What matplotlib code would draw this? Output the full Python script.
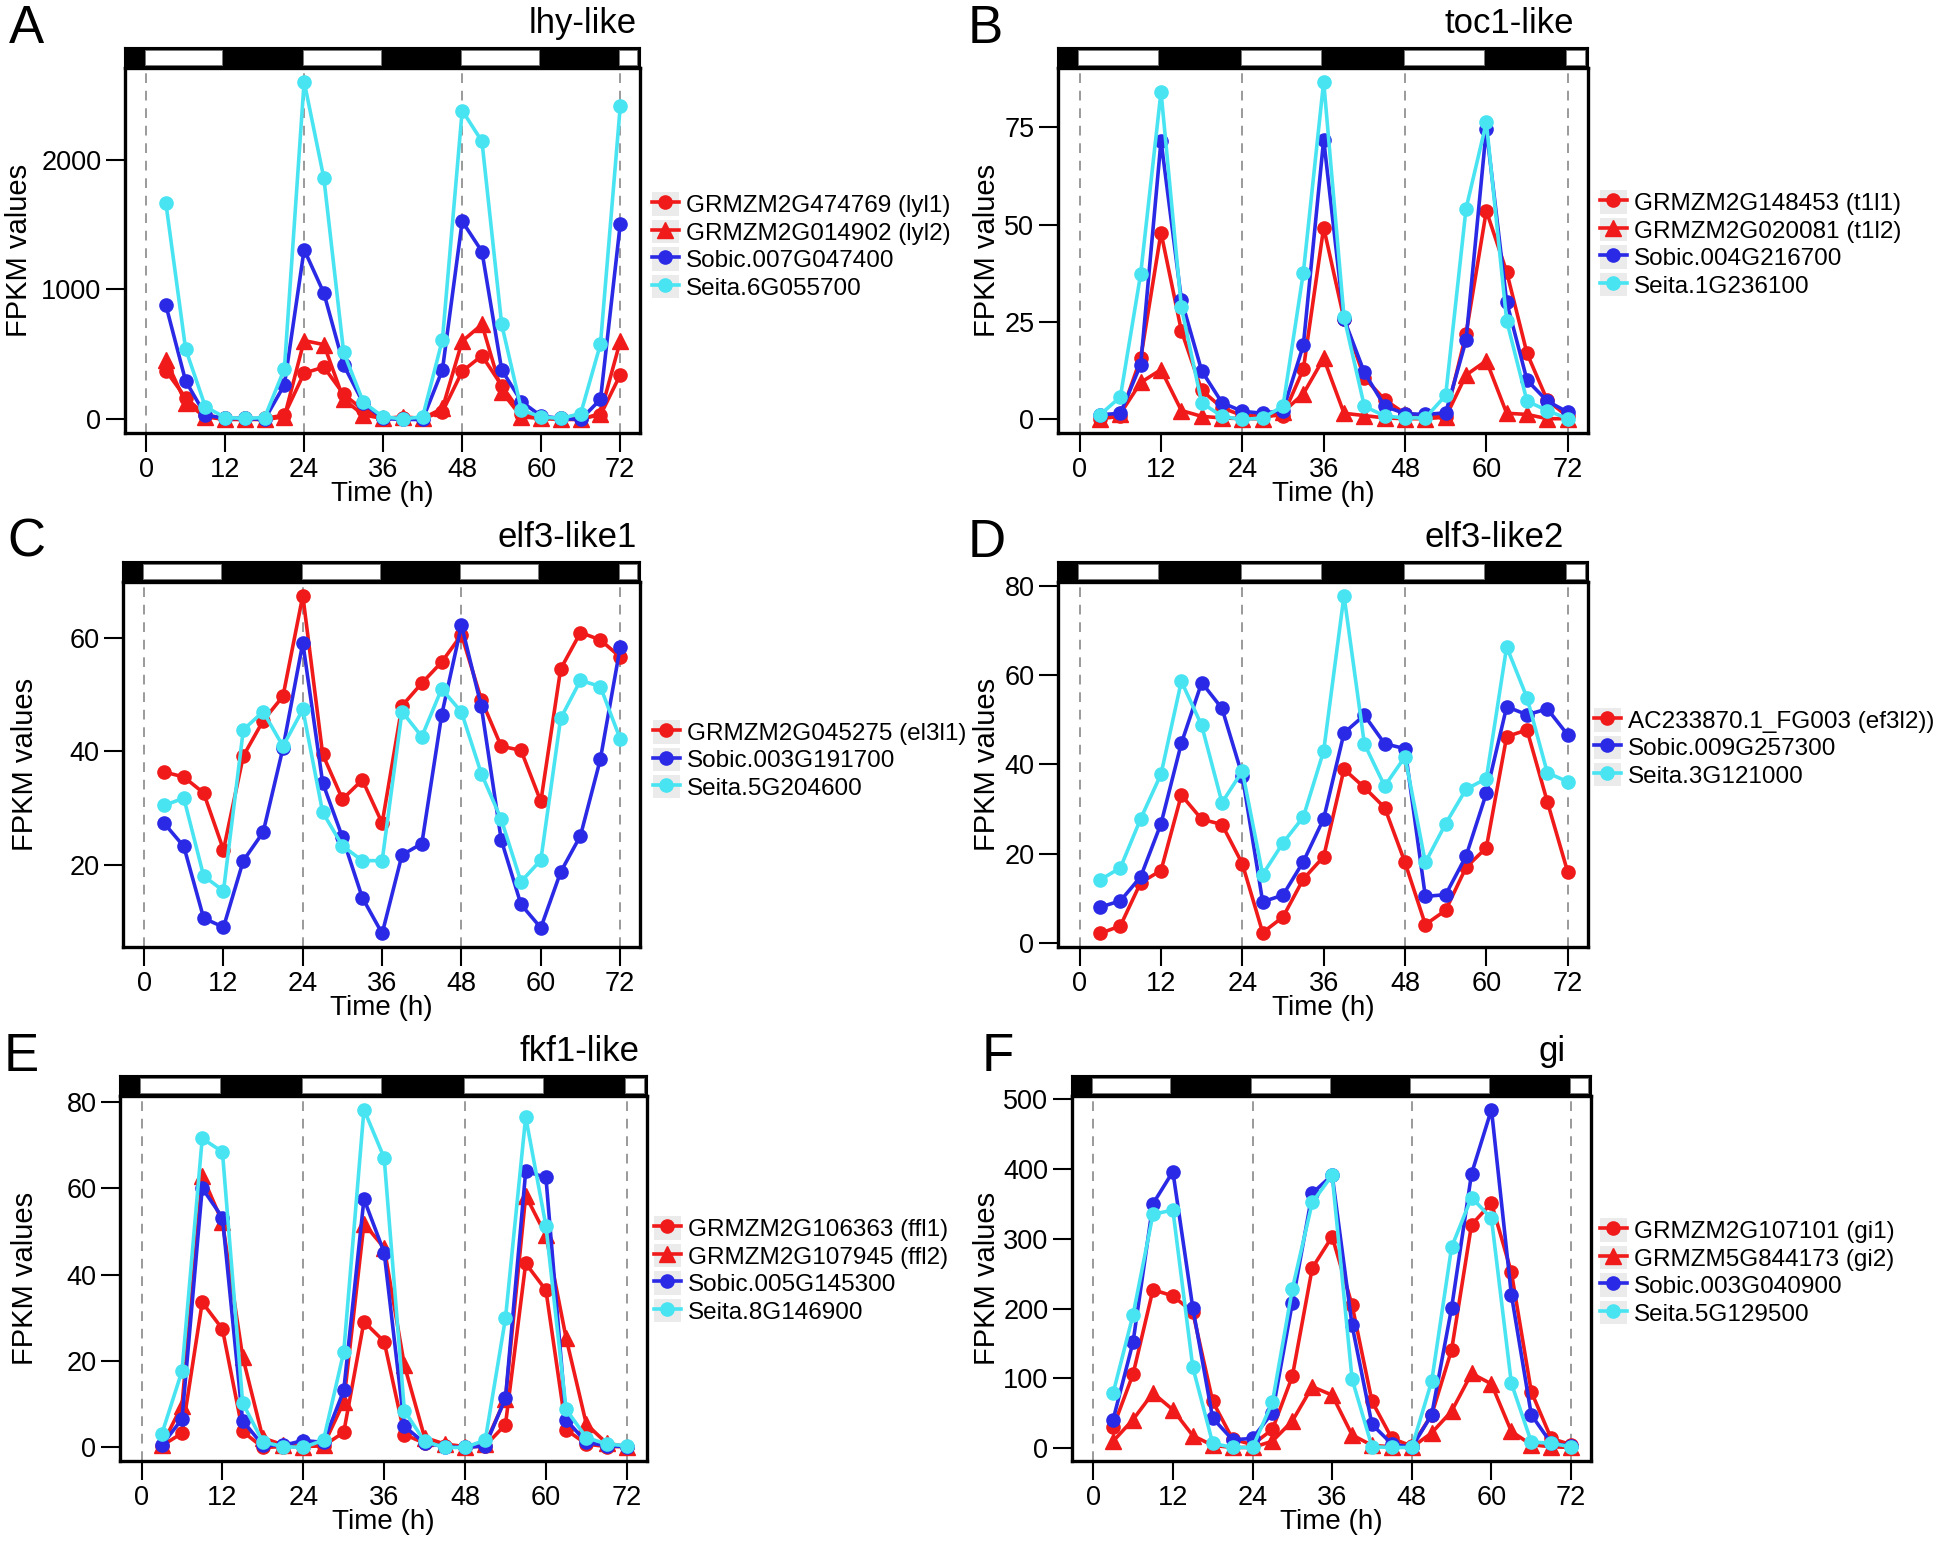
import matplotlib
matplotlib.use("Agg")
import matplotlib.pyplot as plt
from matplotlib.legend_handler import HandlerLine2D
from matplotlib.patches import Rectangle

plt.rcParams['font.family'] = ['Liberation Sans', 'DejaVu Sans']

# sampling times (h)
hours = [3, 6, 9, 12, 15, 18, 21, 24, 27, 30, 33, 36,
         39, 42, 45, 48, 51, 54, 57, 60, 63, 66, 69, 72]

# light periods for the top bar
light_on = [0, 24, 48, 72]
light_off = [12, 36, 60, 84]

# A: lhy-like
lyl1 = [375, 168, 34, 8, 8, 8, 34, 357, 403, 194, 72, 8, 8, 8, 59, 370, 491, 261, 46, 8, 8, 8, 34, 344]
lyl2 = [460, 129, 20, 0, 0, 0, 20, 607, 576, 155, 34, 8, 20, 8, 85, 602, 731, 214, 20, 8, 0, 0, 46, 602]
sobic_a = [881, 297, 34, 8, 8, 0, 266, 1307, 972, 419, 124, 8, 0, 0, 382, 1525, 1292, 382, 137, 26, 8, 0, 155, 1504]
seita_a = [1667, 543, 98, 15, 8, 15, 388, 2600, 1855, 517, 132, 20, 5, 20, 615, 2377, 2140, 731, 72, 20, 8, 46, 581, 2408]

# B: toc1-like
t1l1 = [0.2, 0.8, 15.7, 48, 22.8, 7.5, 3.0, 1.0, 1.0, 1.0, 12.9, 49.3, 25.8, 10.7, 5.1, 1.5, 1.0, 0.6, 21.9, 53.6, 37.9, 17.0, 4.9, 0.8]
t1l2 = [0.2, 1.5, 9.5, 12.8, 2.3, 0.8, 0.4, 0.2, 0.2, 1.9, 6.6, 15.7, 1.6, 1.0, 0.4, 0.2, 0.2, 0.6, 11.4, 15.1, 1.6, 1.3, 0.2, 0.2]
sobic_b = [1.2, 1.6, 14.1, 71.6, 30.8, 12.5, 4.3, 2.1, 1.6, 2.3, 19.1, 71.9, 25.8, 12.1, 3.4, 1.5, 1.3, 1.7, 20.3, 74.6, 30.2, 10.1, 4.7, 1.9]
seita_b = [1.2, 5.8, 37.4, 84.2, 28.8, 4.3, 0.8, 0, 0.4, 3.4, 37.7, 86.8, 26.3, 3.4, 0.9, 0.4, 0.4, 6.2, 54.1, 76.3, 25.4, 4.7, 2.3, 0.2]

# C: elf3-like1
el3l1 = [36.4, 35.5, 32.7, 22.7, 39.2, 45.4, 49.7, 67.4, 39.5, 31.6, 35.0, 27.4, 48.0, 52.0, 55.7, 60.5, 49.1, 40.9, 40.2, 31.2, 54.5, 60.9, 59.6, 56.6]
sobic_c = [27.4, 23.3, 10.7, 9.1, 20.8, 25.8, 40.6, 59.1, 34.5, 24.9, 14.3, 8.0, 21.8, 23.8, 46.4, 62.2, 47.9, 24.5, 13.1, 9.0, 18.8, 25.2, 38.6, 58.3]
seita_c = [30.5, 31.8, 18.1, 15.5, 43.8, 47.0, 40.9, 47.4, 29.3, 23.4, 20.8, 20.8, 47.0, 42.6, 51.0, 46.9, 36.1, 28.1, 17.1, 20.9, 45.8, 52.5, 51.4, 42.2]

# D: elf3-like2
ef3l2 = [2.1, 3.8, 13.5, 16.2, 33.1, 27.7, 26.5, 17.7, 2.3, 5.8, 14.3, 19.3, 38.9, 34.8, 30.3, 18.0, 4.1, 7.3, 16.9, 21.3, 46.2, 47.7, 31.6, 15.9]
sobic_d = [8.0, 9.4, 14.8, 26.7, 44.7, 58.3, 52.5, 37.4, 9.2, 10.7, 18.2, 27.8, 47.0, 51.0, 44.6, 43.5, 10.4, 10.8, 19.4, 33.5, 52.9, 51.1, 52.4, 46.6]
seita_d = [14.1, 16.8, 27.8, 37.8, 58.6, 48.7, 31.4, 38.5, 15.3, 22.4, 28.2, 43.0, 77.8, 44.6, 35.1, 41.7, 18.0, 26.7, 34.4, 36.8, 66.3, 54.9, 38.1, 36.1]

# E: fkf1-like
ffl1 = [0.4, 3.3, 33.6, 27.4, 3.7, 0, 0.2, 0.2, 0.4, 3.5, 29.1, 24.5, 3.0, 1.0, 0.4, 0, 0.4, 5.3, 42.6, 36.4, 4.1, 0.8, 0.2, 0.2]
ffl2 = [0.5, 9.7, 62.9, 52.1, 21.0, 2.2, 0.6, 0.2, 0.5, 10.5, 51.8, 46.2, 19.0, 2.3, 0.8, 0.2, 0.8, 11.3, 58.3, 49.1, 25.3, 5.4, 1.0, 0.2]
sobic_e = [0.5, 6.6, 60.0, 53.2, 6.2, 0.5, 0.5, 1.6, 1.2, 13.2, 57.5, 45.1, 4.9, 1.0, 0.2, 0, 0.4, 11.4, 63.9, 62.5, 6.4, 1.2, 0.4, 0.2]
seita_e = [3.1, 17.7, 71.5, 68.4, 10.3, 1.3, 0.2, 0, 1.7, 22.1, 78.2, 67.0, 8.5, 1.4, 0, 0, 1.7, 29.9, 76.5, 51.3, 8.8, 2.3, 0.8, 0.4]

# F: gi
gi1 = [30, 106, 227, 218, 195, 67, 13, 5, 27, 103, 258, 303, 205, 67, 14, 3, 48, 141, 320, 351, 252, 81, 14, 5]
gi2 = [10, 41, 79, 55, 18, 4, 1, 1, 10, 39, 88, 76, 19, 4, 2, 1, 22, 53, 107, 92, 24, 5, 2, 1]
sobic_f = [41, 152, 350, 396, 201, 43, 12, 14, 51, 208, 365, 391, 176, 34, 6, 1, 48, 201, 393, 485, 220, 48, 7, 3]
seita_f = [79, 191, 335, 341, 116, 7, 1, 1, 66, 228, 352, 391, 99, 2, 1, 1, 96, 288, 359, 329, 93, 9, 7, 2]

RED = '#f01a1a'
BLUE = '#2a2ae6'
CYAN = '#48e4f2'

W, H = 1946, 1544
fig = plt.figure(figsize=(W / 100, H / 100), dpi=100)
XLIM = (-3.2, 75.0)


class KeyBox(HandlerLine2D):
    def create_artists(self, legend, orig_handle, xdescent, ydescent,
                       width, height, fontsize, trans):
        box = Rectangle((-xdescent, -ydescent), width, height,
                        facecolor='#ebebeb', edgecolor='none', transform=trans)
        arts = super().create_artists(legend, orig_handle, xdescent, ydescent,
                                      width, height, fontsize, trans)
        return [box] + arts


def panel(letter, title, box, series, yticks, ylab_x, title_x, leg_xy):
    left, top, right, bottom = box
    ax = fig.add_axes([left / W, 1 - bottom / H, (right - left) / W, (bottom - top) / H])
    bar = fig.add_axes([left / W, 1 - top / H, (right - left) / W, 20 / H])

    for name, vals, col, mk in series:
        ax.plot(hours, vals, color=col, marker=mk, ms=11 if mk == '^' else 9.5,
                lw=2.6, label=name)
    for x in [0, 24, 48, 72]:
        ax.axvline(x, color='#9a9a9a', lw=1.4, ls=(0, (5, 4)), zorder=0)

    allv = [v for s in series for v in s[1]]
    lo, hi = min(allv), max(allv)
    pad = 0.04 * (hi - lo)
    ax.set_ylim(lo - pad, hi + pad)
    ax.set_xlim(*XLIM)
    ax.set_xticks([0, 12, 24, 36, 48, 60, 72])
    ax.set_yticks(yticks)
    ax.tick_params(length=14, width=1.5, labelsize=19.5, pad=3)
    for sp in ax.spines.values():
        sp.set_linewidth(2.4)

    ax.set_xlabel('Time (h)', fontsize=20)
    ax.xaxis.set_label_coords(0.5, -61 / (bottom - top))
    ax.xaxis.label.set_va('center')
    ax.set_ylabel('FPKM values', fontsize=21)
    ax.yaxis.set_label_coords((ylab_x - left) / (right - left), 0.5)
    ax.yaxis.label.set_va('center')

    # light/dark bar
    bar.set_xlim(*XLIM)
    bar.set_ylim(0, 1)
    bar.set_facecolor('black')
    bar.set_xticks([])
    bar.set_yticks([])
    for sp in bar.spines.values():
        sp.set_linewidth(1.5)
    for on, off in zip(light_on, light_off):
        bar.axvspan(on - 0.2, min(off - 0.4, XLIM[1] - 0.5), ymin=0.14, ymax=0.88,
                    facecolor='white', edgecolor='#777777', lw=0.6)

    fig.text(title_x / W, 1 - (top - 35) / H, title, fontsize=25,
             ha='right', va='baseline')
    fig.text((left - 119 + 3) / W if left < 500 else (left - 90) / W,
             1 - (top - 25) / H, letter, fontsize=38, va='baseline')

    ax.legend(loc='center left', bbox_to_anchor=(leg_xy[0] / W, 1 - leg_xy[1] / H),
              bbox_transform=fig.transFigure, frameon=False, fontsize=17.5,
              handlelength=1.1, handleheight=1.1, handletextpad=0.3,
              labelspacing=0.1, borderpad=0, borderaxespad=0, numpoints=1,
              handler_map={matplotlib.lines.Line2D: KeyBox()})
    return ax


panel('A', 'lhy-like', (125, 68, 640, 433),
      [('GRMZM2G474769 (lyl1)', lyl1, RED, 'o'),
       ('GRMZM2G014902 (lyl2)', lyl2, RED, '^'),
       ('Sobic.007G047400', sobic_a, BLUE, 'o'),
       ('Seita.6G055700', seita_a, CYAN, 'o')],
      [0, 1000, 2000], 19, 637, (652, 246))

panel('B', 'toc1-like', (1058, 68, 1588, 433),
      [('GRMZM2G148453 (t1l1)', t1l1, RED, 'o'),
       ('GRMZM2G020081 (t1l2)', t1l2, RED, '^'),
       ('Sobic.004G216700', sobic_b, BLUE, 'o'),
       ('Seita.1G236100', seita_b, CYAN, 'o')],
      [0, 25, 50, 75], 987, 1574, (1600, 244))

panel('C', 'elf3-like1', (123, 582, 640, 947),
      [('GRMZM2G045275 (el3l1)', el3l1, RED, 'o'),
       ('Sobic.003G191700', sobic_c, BLUE, 'o'),
       ('Seita.5G204600', seita_c, CYAN, 'o')],
      [20, 40, 60], 25, 637, (653, 760))

panel('D', 'elf3-like2', (1058, 582, 1588, 947),
      [('AC233870.1_FG003 (ef3l2))', ef3l2, RED, 'o'),
       ('Sobic.009G257300', sobic_d, BLUE, 'o'),
       ('Seita.3G121000', seita_d, CYAN, 'o')],
      [0, 20, 40, 60, 80], 987, 1564, (1594, 748))

panel('E', 'fkf1-like', (120, 1096, 647, 1461),
      [('GRMZM2G106363 (ffl1)', ffl1, RED, 'o'),
       ('GRMZM2G107945 (ffl2)', ffl2, RED, '^'),
       ('Sobic.005G145300', sobic_e, BLUE, 'o'),
       ('Seita.8G146900', seita_e, CYAN, 'o')],
      [0, 20, 40, 60, 80], 25, 639, (654, 1270))

panel('F', 'gi', (1072, 1096, 1591, 1461),
      [('GRMZM2G107101 (gi1)', gi1, RED, 'o'),
       ('GRMZM5G844173 (gi2)', gi2, RED, '^'),
       ('Sobic.003G040900', sobic_f, BLUE, 'o'),
       ('Seita.5G129500', seita_f, CYAN, 'o')],
      [0, 100, 200, 300, 400, 500], 987, 1566, (1600, 1272))

fig.savefig('out.png', dpi=100)
